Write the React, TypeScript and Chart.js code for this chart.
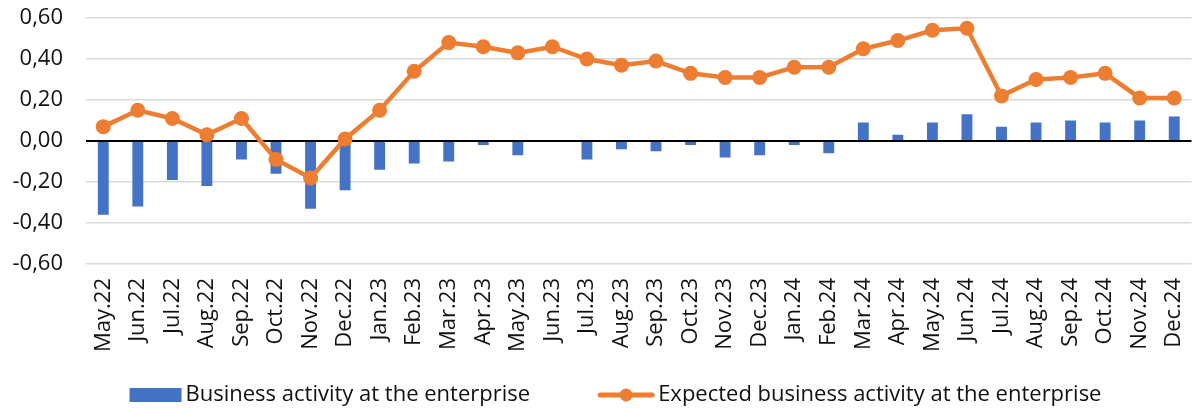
import React, { useEffect, useRef } from "react";
import { Chart, registerables } from "chart.js";

Chart.register(...registerables);

const categories = [
  "May.22", "Jun.22", "Jul.22", "Aug.22", "Sep.22", "Oct.22", "Nov.22", "Dec.22",
  "Jan.23", "Feb.23", "Mar.23", "Apr.23", "May.23", "Jun.23", "Jul.23", "Aug.23",
  "Sep.23", "Oct.23", "Nov.23", "Dec.23", "Jan.24", "Feb.24", "Mar.24", "Apr.24",
  "May.24", "Jun.24", "Jul.24", "Aug.24", "Sep.24", "Oct.24", "Nov.24", "Dec.24",
];

const businessActivity = [
  -0.36, -0.32, -0.19, -0.22, -0.09, -0.16, -0.33, -0.24,
  -0.14, -0.11, -0.10, -0.02, -0.07, 0.0, -0.09, -0.04,
  -0.05, -0.02, -0.08, -0.07, -0.02, -0.06, 0.09, 0.03,
  0.09, 0.13, 0.07, 0.09, 0.10, 0.09, 0.10, 0.12,
];

const expectedActivity = [
  0.07, 0.15, 0.11, 0.03, 0.11, -0.09, -0.18, 0.01,
  0.15, 0.34, 0.48, 0.46, 0.43, 0.46, 0.40, 0.37,
  0.39, 0.33, 0.31, 0.31, 0.36, 0.36, 0.45, 0.49,
  0.54, 0.55, 0.22, 0.30, 0.31, 0.33, 0.21, 0.21,
];

const seriesNames = [
  "Business activity at the enterprise",
  "Expected business activity at the enterprise",
];

const yTicks = [-0.6, -0.4, -0.2, 0, 0.2, 0.4, 0.6];

const BLUE = "#4472C4";
const ORANGE = "#ED7D31";
const TEXT = "#111111";
const FONT = "'Open Sans', sans-serif";
const FONT_SIZE = 22;

// Legend drawn in the style of the original (wide bar swatch, line + marker swatch)
const bottomLegend = {
  id: "bottomLegend",
  afterDraw(chart: any) {
    const ctx = chart.ctx as CanvasRenderingContext2D;
    const ds = chart.data.datasets;
    ctx.save();
    ctx.font = `${FONT_SIZE}px ${FONT}`;
    const w1 = ctx.measureText(ds[0].label).width;
    const w2 = ctx.measureText(ds[1].label).width;
    const swatchBar = 52;
    const swatchLine = 56;
    const gapText = 4;
    const gapItems = 68;
    const total = swatchBar + gapText + w1 + gapItems + swatchLine + gapText + w2;
    const cx = 615.5;
    const cy = 395;
    let x = cx - total / 2;

    ctx.fillStyle = ds[0].backgroundColor;
    ctx.fillRect(x, cy - 7, swatchBar, 14);
    x += swatchBar + gapText;
    ctx.fillStyle = TEXT;
    ctx.textAlign = "left";
    ctx.textBaseline = "middle";
    ctx.fillText(ds[0].label, x, cy);
    x += w1 + gapItems;

    ctx.strokeStyle = ds[1].borderColor;
    ctx.lineWidth = 5;
    ctx.lineCap = "round";
    ctx.beginPath();
    ctx.moveTo(x + 2, cy);
    ctx.lineTo(x + swatchLine - 2, cy);
    ctx.stroke();
    ctx.fillStyle = ds[1].borderColor;
    ctx.beginPath();
    ctx.arc(x + swatchLine / 2, cy, 6.5, 0, Math.PI * 2);
    ctx.fill();
    x += swatchLine + gapText;
    ctx.fillStyle = TEXT;
    ctx.fillText(ds[1].label, x, cy);
    ctx.restore();
  },
};

export default function App() {
  const ref = useRef<HTMLCanvasElement | null>(null);

  useEffect(() => {
    if (!ref.current) return;

    const chart = new Chart(ref.current, {
      type: "bar",
      data: {
        labels: categories,
        datasets: [
          {
            type: "bar",
            label: seriesNames[0],
            data: businessActivity,
            backgroundColor: BLUE,
            borderColor: BLUE,
            categoryPercentage: 0.9,
            barPercentage: 0.35,
            order: 1,
          },
          {
            type: "line",
            label: seriesNames[1],
            data: expectedActivity,
            borderColor: ORANGE,
            backgroundColor: ORANGE,
            borderWidth: 4.5,
            pointRadius: 7.5,
            pointBorderWidth: 0,
            pointBackgroundColor: ORANGE,
            tension: 0,
            order: 0,
          },
        ],
      },
      options: {
        responsive: false,
        animation: false,
        devicePixelRatio: 1,
        layout: { padding: { left: 0, right: 0, top: 18, bottom: 44 } },
        plugins: {
          tooltip: { enabled: false },
          legend: { display: false },
        },
        scales: {
          x: {
            afterFit: (scale: any) => {
              scale.height = 100;
              scale.paddingLeft = 0;
              scale.paddingRight = 0;
            },
            grid: { display: false, drawTicks: false },
            border: { display: false },
            ticks: {
              minRotation: 90,
              maxRotation: 90,
              autoSkip: false,
              padding: 14,
              color: TEXT,
              font: { family: FONT, size: FONT_SIZE },
            },
          },
          y: {
            min: -0.6,
            max: 0.6,
            afterFit: (scale: any) => {
              scale.width = 86;
              scale.paddingTop = 0;
              scale.paddingBottom = 0;
            },
            afterBuildTicks: (scale: any) => {
              scale.ticks = yTicks.map((v) => ({ value: v }));
            },
            border: { display: false },
            grid: {
              drawTicks: false,
              color: (ctx: any) =>
                ctx.tick && Math.abs(ctx.tick.value) < 1e-9 ? "#000" : "#D9D9D9",
              lineWidth: (ctx: any) =>
                ctx.tick && Math.abs(ctx.tick.value) < 1e-9 ? 2 : 1.5,
            },
            ticks: {
              padding: 23,
              color: TEXT,
              font: { family: FONT, size: FONT_SIZE },
              callback: (v: any) => Number(v).toFixed(2).replace(".", ","),
            },
          },
        },
      },
      plugins: [bottomLegend],
    });

    return () => chart.destroy();
  }, []);

  return (
    <div
      style={{
        position: "absolute",
        left: 0,
        top: 0,
        width: 1195,
        height: 408,
        overflow: "hidden",
        background: "#fff",
      }}
    >
      <canvas ref={ref} width={1199} height={408} style={{ display: "block" }} />
    </div>
  );
}
